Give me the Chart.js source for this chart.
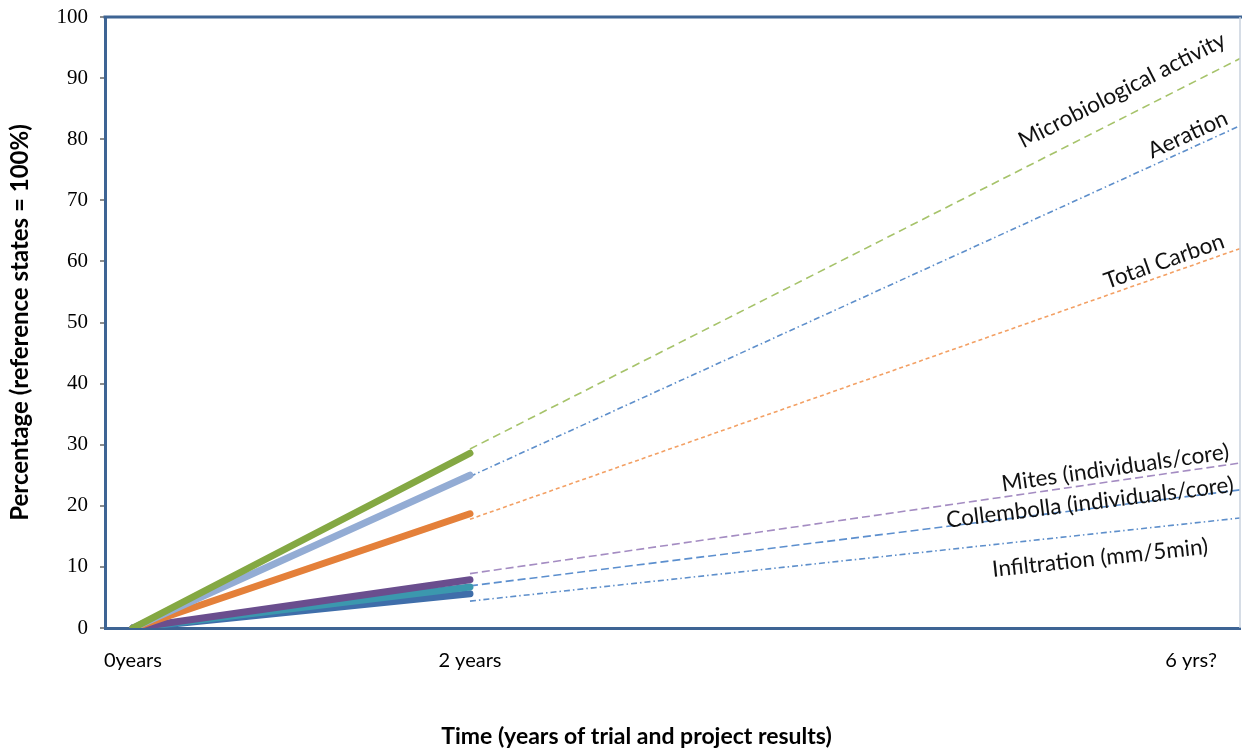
<!DOCTYPE html>
<html>
<head>
<meta charset="utf-8">
<script src="https://cdn.jsdelivr.net/npm/chart.js@4.4.1/dist/chart.umd.min.js"></script>
<style>
  html, body { margin: 0; padding: 0; background: #ffffff; }
  #wrap { width: 1242px; height: 749px; position: relative; }
</style>
</head>
<body>
<div id="wrap"><canvas id="c" width="1242" height="749"></canvas></div>
<script>
// ---- data ----
const measuredYears = [0, 2];
const projectedYears = [2, 6.57];

const seriesNames = ['Microbiological activity', 'Aeration', 'Total Carbon',
  'Mites (individuals/core)', 'Collembolla (individuals/core)', 'Infiltration (mm/5min)'];

const microMeasured = [0, 28.6];
const aerationMeasured = [0, 25.0];
const carbonMeasured = [0, 18.7];
const mitesMeasured = [0, 7.9];
const collembolaMeasured = [0, 6.7];
const infiltrationMeasured = [0, 5.6];

const microProjected = [29.3, 93.2];
const aerationProjected = [24.8, 82.2];
const carbonProjected = [17.8, 62.1];
const mitesProjected = [8.9, 27.0];
const collembolaProjected = [6.9, 22.6];
const infiltrationProjected = [4.4, 18.0];

const xTickValues = [0, 2, 6.28];
const xTickLabels = ['0years', '2 years', '6 yrs?'];
const yTicks = [0, 10, 20, 30, 40, 50, 60, 70, 80, 90, 100];

// label anchor (x in years) and vertical offset in px from the projected line
const labelAnchorX = [5.87, 6.26, 6.12, 5.83, 5.68, 5.74];
const labelOffsetPx = [-28, -15, -14, -13, -6, 25];

// ---- styles ----
const axisColor = '#3E6494';
const solidColors = ['#84A843', '#93ACD4', '#E4803A', '#6A4E8E', '#3B98AE', '#3F6EAA'];
const projColors = ['#A6C36A', '#5E8FCB', '#F3A064', '#A48CC2', '#5C8FCE', '#5E8FCB'];
const projDash = [[8, 5], [6, 3, 1.5, 3], [4, 3], [8, 4], [8, 4], [6, 3, 1.5, 3]];

const measured = [microMeasured, aerationMeasured, carbonMeasured, mitesMeasured, collembolaMeasured, infiltrationMeasured];
const projected = [microProjected, aerationProjected, carbonProjected, mitesProjected, collembolaProjected, infiltrationProjected];

const datasets = [];
projected.forEach((vals, i) => {
  datasets.push({
    label: seriesNames[i] + ' (projection)',
    data: projectedYears.map((x, k) => ({ x: x, y: vals[k] })),
    borderColor: projColors[i],
    borderWidth: 1.6,
    borderDash: projDash[i],
    pointRadius: 0,
    fill: false,
    order: 2
  });
});
measured.forEach((vals, i) => {
  datasets.push({
    label: seriesNames[i],
    data: measuredYears.map((x, k) => ({ x: x, y: vals[k] })),
    borderColor: solidColors[i],
    borderWidth: 7,
    borderCapStyle: 'round',
    pointRadius: 0,
    fill: false,
    order: 1
  });
});

const overlay = {
  id: 'overlay',
  afterDraw(chart) {
    const ctx = chart.ctx;
    const a = chart.chartArea;
    const xs = chart.scales.x, ys = chart.scales.y;
    ctx.save();
    // top border
    ctx.strokeStyle = axisColor;
    ctx.lineWidth = 3;
    ctx.beginPath();
    ctx.moveTo(a.left - 1.5, a.top);
    ctx.lineTo(a.right + 2, a.top);
    ctx.stroke();
    // thin right border
    ctx.strokeStyle = '#C9D2DE';
    ctx.lineWidth = 1.5;
    ctx.beginPath();
    ctx.moveTo(a.right, a.top);
    ctx.lineTo(a.right, a.bottom);
    ctx.stroke();

    // series labels along projected lines
    ctx.fillStyle = '#111111';
    ctx.font = '22.5px Lato';
    ctx.textAlign = 'center';
    ctx.textBaseline = 'middle';
    projected.forEach((vals, i) => {
      const x0 = xs.getPixelForValue(projectedYears[0]);
      const x1 = xs.getPixelForValue(projectedYears[1]);
      const y0 = ys.getPixelForValue(vals[0]);
      const y1 = ys.getPixelForValue(vals[1]);
      const px = xs.getPixelForValue(labelAnchorX[i]);
      const py = y0 + (y1 - y0) * (px - x0) / (x1 - x0) + labelOffsetPx[i];
      const ang = Math.atan2(y1 - y0, x1 - x0);
      ctx.save();
      ctx.translate(px, py);
      ctx.rotate(ang);
      ctx.fillText(seriesNames[i], 0, 0);
      ctx.restore();
    });

    // x axis title
    ctx.font = 'bold 23px Lato';
    ctx.fillStyle = '#000000';
    ctx.textAlign = 'center';
    ctx.textBaseline = 'middle';
    ctx.fillText('Time (years of trial and project results)', (a.left + a.right) / 2 - 36, 737);
    ctx.restore();
  }
};

new Chart(document.getElementById('c'), {
  type: 'line',
  data: { datasets: datasets },
  options: {
    responsive: false,
    animation: false,
    events: [],
    layout: { padding: { left: 6, top: 17, right: 2, bottom: 0 } },
    plugins: { legend: { display: false }, tooltip: { enabled: false }, title: { display: false } },
    scales: {
      x: {
        type: 'linear',
        min: -0.166,
        max: 6.57,
        afterFit(scale) { scale.height = 121; scale.paddingLeft = 0; scale.paddingRight = 0; },
        afterBuildTicks(axis) { axis.ticks = xTickValues.map(v => ({ value: v })); },
        ticks: {
          autoSkip: false,
          maxRotation: 0,
          padding: 21,
          color: '#000000',
          font: { family: 'Lato', size: 20 },
          callback: (v, idx) => xTickLabels[idx]
        },
        grid: { display: false, drawTicks: false },
        border: { display: true, color: axisColor, width: 3 }
      },
      y: {
        min: 0,
        max: 100,
        afterFit(scale) { scale.width = 99; scale.paddingTop = 0; scale.paddingBottom = 0; },
        afterBuildTicks(axis) { axis.ticks = yTicks.map(v => ({ value: v })); },
        ticks: {
          padding: 12,
          color: '#000000',
          font: { family: 'Liberation Serif', size: 21 }
        },
        grid: { display: true, drawOnChartArea: false, drawTicks: true, tickLength: 5, color: '#8C8C8C', lineWidth: 2 },
        border: { display: true, color: axisColor, width: 3 },
        title: {
          display: true,
          text: 'Percentage (reference states = 100%)',
          color: '#000000',
          font: { family: 'Lato', size: 24, weight: 'bold' },
          padding: { top: 0, bottom: 0 }
        }
      }
    }
  },
  plugins: [overlay]
});
</script>
</body>
</html>
